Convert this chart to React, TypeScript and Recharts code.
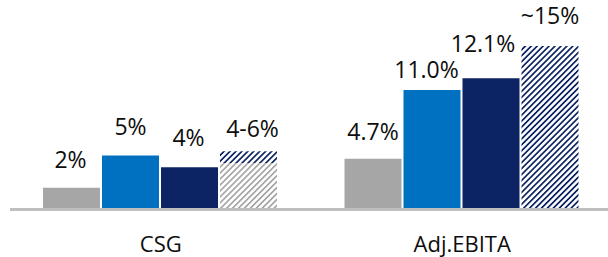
import React from 'react';
import { BarChart, Bar, XAxis, YAxis, LabelList } from 'recharts';

const categories = ['CSG', 'Adj.EBITA'];
const priorValues = [1.9, 4.6];
const actualValues = [4.9, 11.0];
const planValues = [3.8, 12.1];
const targetBaseValues = [4.2, 0];
const targetTopValues = [1.1, 15.1];

const priorLabels = ['2%', '4.7%'];
const actualLabels = ['5%', '11.0%'];
const planLabels = ['4%', '12.1%'];
const targetLabels = ['4-6%', '~15%'];

const data = categories.map((category, i) => ({
  category,
  prior: priorValues[i],
  actual: actualValues[i],
  plan: planValues[i],
  targetBase: targetBaseValues[i],
  targetTop: targetTopValues[i],
  priorLabel: priorLabels[i],
  actualLabel: actualLabels[i],
  planLabel: planLabels[i],
  targetLabel: targetLabels[i],
}));

// small hand nudges [dx, dy] so labels sit where the slide has them
const nudges: Record<string, number[][]> = {
  prior: [[-1, 0], [0, 1]],
  actual: [[0, 0], [-5.5, 8]],
  plan: [[-1, -1], [-8, -6]],
  target: [[4, 6], [0, -2]],
};

const FONT = '"Open Sans", sans-serif';
const GRAY = '#A6A6A6';
const BLUE = '#0070C0';
const NAVY = '#0C2364';

const makeLabel = (key: string) => (props: any) => {
  const { x, y, width, value, index } = props;
  const [dx, dy] = nudges[key][index] || [0, 0];
  return (
    <text
      x={Number(x) + Number(width) / 2 + dx}
      y={Number(y) - 20 + dy}
      textAnchor="middle"
      fontFamily={FONT}
      fontSize={23}
      fill="#0D0D0D"
    >
      {value}
    </text>
  );
};

export default function App() {
  return (
    <div style={{ position: 'absolute', left: 0, top: 0, width: 608, height: 257, overflow: 'hidden', background: '#fff' }}>
      <BarChart
        width={614}
        height={257}
        data={data}
        margin={{ top: 15, right: 1, bottom: 0, left: 10 }}
        barCategoryGap={33}
        barGap={2}
      >
        <defs>
          <pattern id="hatchGray" patternUnits="userSpaceOnUse" width={4.2} height={4.2} patternTransform="rotate(45)">
            <rect x={0} y={0} width={1.7} height={4.2} fill={GRAY} />
          </pattern>
          <pattern id="hatchNavy" patternUnits="userSpaceOnUse" width={4.2} height={4.2} patternTransform="rotate(45)">
            <rect x={0} y={0} width={1.7} height={4.2} fill={NAVY} />
          </pattern>
        </defs>
        <XAxis
          dataKey="category"
          height={49}
          interval={0}
          tickLine={false}
          tickMargin={22}
          axisLine={{ stroke: '#BFBFBF', strokeWidth: 3, transform: 'translate(0,1.5)' }}
          tick={{ fontSize: 22, fill: '#0D0D0D', fontFamily: FONT }}
        />
        <YAxis hide domain={[0, 18]} />
        <Bar dataKey="prior" stackId="prior" fill={GRAY} isAnimationActive={false}>
          <LabelList dataKey="priorLabel" content={makeLabel('prior')} />
        </Bar>
        <Bar dataKey="actual" stackId="actual" fill={BLUE} isAnimationActive={false}>
          <LabelList dataKey="actualLabel" content={makeLabel('actual')} />
        </Bar>
        <Bar dataKey="plan" stackId="plan" fill={NAVY} isAnimationActive={false}>
          <LabelList dataKey="planLabel" content={makeLabel('plan')} />
        </Bar>
        <Bar dataKey="targetBase" stackId="target" fill="url(#hatchGray)" isAnimationActive={false} />
        <Bar dataKey="targetTop" stackId="target" fill="url(#hatchNavy)" isAnimationActive={false}>
          <LabelList dataKey="targetLabel" content={makeLabel('target')} />
        </Bar>
      </BarChart>
    </div>
  );
}
